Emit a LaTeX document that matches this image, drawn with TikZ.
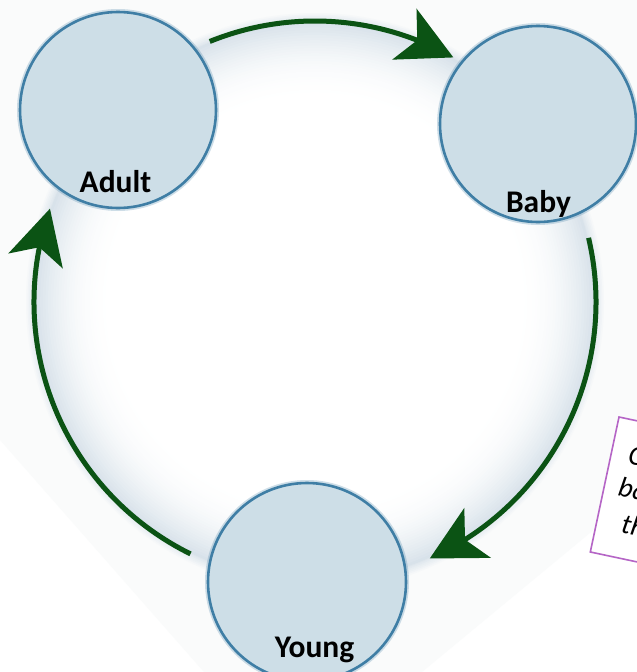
\documentclass[tikz,border=0pt]{standalone}
\usepackage{fontspec}
\setmainfont{Carlito}
\usetikzlibrary{arrows.meta,bending,calc}
\definecolor{bgc}{HTML}{FAFBFB}
\definecolor{glowc}{HTML}{D8E2EA}
\definecolor{nodefill}{HTML}{CDDEE7}
\definecolor{nodeline}{HTML}{3F7EA5}
\definecolor{arrowc}{HTML}{0B5314}
\definecolor{boxc}{HTML}{B565C6}
\tikzset{
  stage/.style={circle, draw=nodeline, line width=2.6pt, fill=nodefill,
    minimum size=196pt, inner sep=0pt,
    preaction={draw=nodeline, line width=6pt, opacity=0.25}},
  stagelabel/.style={font=\bfseries\fontsize{31.5}{36}\selectfont, anchor=base, inner sep=0pt},
  cyclearrow/.style={draw=arrowc, line width=5pt,
    -{Stealth[length=54pt,width=56pt,inset=14pt]}},
  notetext/.style={anchor=base west, inner sep=0pt, transform shape,
    font=\itshape\fontsize{28}{34}\selectfont},
}
\begin{document}
\begin{tikzpicture}[x=1pt,y=-1pt]
\useasboundingbox (0,0) rectangle (637,672);
\clip (0,0) rectangle (637,672);
\fill[white] (0,0) rectangle (637,672);
\fill[bgc] (0,0) -- (637,0) -- (637,494) -- (422,672) -- (204,672) -- (0,440) -- cycle;
\coordinate (c) at (315,302);
% soft outer glow of the disk
\foreach \r in {0,...,5} {
  \pgfmathsetmacro\rr{289-1.6*\r}
  \pgfmathsetmacro\p{80*(\r+1)/6}
  \fill[glowc!\p!bgc] (c) circle[radius=\rr pt];
}
% inner gradient
\foreach \k in {0,...,30} {
  \pgfmathsetmacro\rr{280-\k*2.6}
  \pgfmathsetmacro\p{100*(1-\k/30)^2.2}
  \fill[glowc!\p!white] (c) circle[radius=\rr pt];
}
% stages
\node[stage] (adult) at (118,110) {};
\node[stage] (baby) at (538,124) {};
\node[stage, minimum size=198pt] (young) at (307,582) {};
\node[stagelabel] (adultlbl) at (115.5,192.5) {Adult};
\node[stagelabel] (babylbl) at (538.5,212) {Baby};
\node[stagelabel] (younglbl) at (314.5,657) {Young};
% arrows
\coordinate (a1s) at ($(c)+(-112:281)$);
\coordinate (a2s) at ($(c)+(-13.2:281)$);
\coordinate (a3s) at ($(c)+(116.3:281)$);
\draw[cyclearrow] (a1s) arc[start angle=-112, end angle=-60.5, radius=281];
\draw[cyclearrow] (a2s) arc[start angle=-13.2, end angle=65.9, radius=281];
\draw[cyclearrow] (a3s) arc[start angle=116.3, end angle=199.4, radius=281];
% note box
\begin{scope}[shift={(619,417)}, rotate=-12]
  \draw[boxc, fill=white, line width=1.6pt] (0,0) rectangle (220,138);
  \node[notetext] (line1) at (17.4,43.3) {C};
  \node[notetext] (line2) at (14.3,76.7) {ba};
  \node[notetext] (line3) at (25.1,113.2) {th};
\end{scope}
\end{tikzpicture}
\end{document}
